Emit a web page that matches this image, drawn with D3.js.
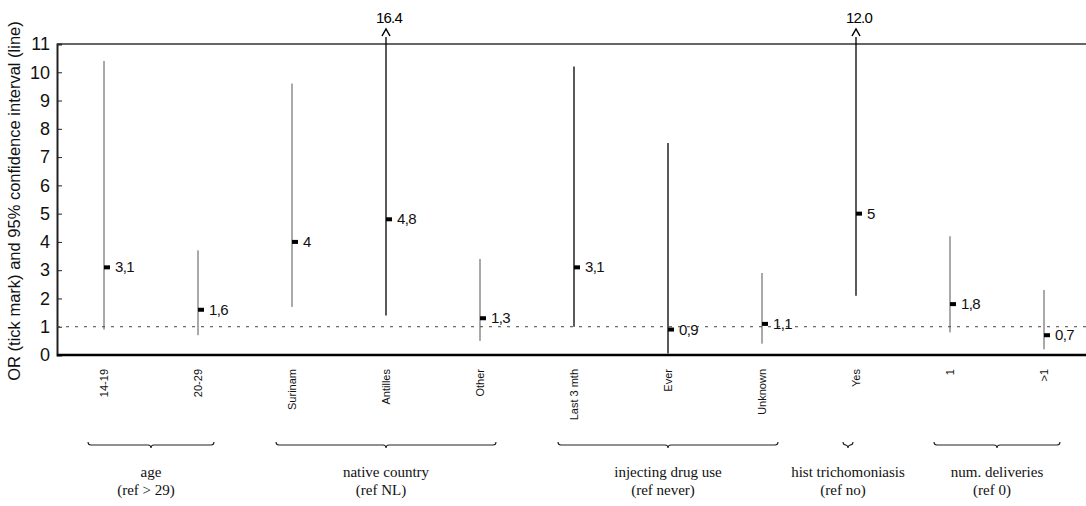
<!DOCTYPE html>
<html>
<head>
<meta charset="utf-8">
<script src="https://cdn.jsdelivr.net/npm/d3@7"></script>
<style>
  body { margin: 0; background: #fff; }
  svg { display: block; }
</style>
</head>
<body>
<div id="chart"></div>
<script>
// categories along the x axis
const categories = ["14-19", "20-29", "Surinam", "Antilles", "Other", "Last 3 mth", "Ever", "Unknown", "Yes", "1", ">1"];
// odds ratio (tick mark) and 95% CI (line)
const oddsRatio = [3.1, 1.6, 4, 4.8, 1.3, 3.1, 0.9, 1.1, 5, 1.8, 0.7];
const ciLow = [0.9, 0.7, 1.7, 1.4, 0.5, 1.0, 0.05, 0.4, 2.1, 0.8, 0.2];
const ciHigh = [10.4, 3.7, 9.6, 16.4, 3.4, 10.2, 7.5, 2.9, 12.0, 4.2, 2.3];
const yTicks = [0, 1, 2, 3, 4, 5, 6, 7, 8, 9, 10, 11];
// variable groups under the axis
const groupNames = ["age", "native country", "injecting drug use", "hist trichomoniasis", "num. deliveries"];
const groupRefs = ["(ref > 29)", "(ref NL)", "(ref never)", "(ref no)", "(ref 0)"];
const groupFirst = ["14-19", "Surinam", "Last 3 mth", "Yes", "1"];
const groupLast = ["20-29", "Other", "Unknown", "Yes", ">1"];

const data = categories.map((c, i) => ({ cat: c, or: oddsRatio[i], lo: ciLow[i], hi: ciHigh[i] }));
const darkLines = ["Antilles", "Last 3 mth", "Ever", "Yes"];

var W = 1086, H = 506;
var margin = { top: 44, left: 57 },
  width = W - margin.left,
  height = 311;

var svg = d3.select("#chart").append("svg").attr("width", W).attr("height", H);
var g = svg.append("g").attr("transform", "translate(" + margin.left + "," + margin.top + ")");

var x = d3.scaleBand().domain(categories).range([0, 1034]);
var cx = c => x(c) + x.bandwidth() / 2;
var y = d3.scaleLinear().domain([0, 11]).range([height, 0]);

// y axis
var yAxis = g.append("g").call(d3.axisLeft(y).tickValues(yTicks).tickSize(-5).tickPadding(7));
yAxis.select(".domain").attr("stroke", "#222").attr("stroke-width", 2);
yAxis.selectAll(".tick line").attr("stroke", "#222");
yAxis.selectAll(".tick text")
  .attr("font-family", "Liberation Sans, Arial, sans-serif")
  .attr("font-size", 18)
  .attr("fill", "#111");

// top border and baseline
g.append("line").attr("x1", 0).attr("x2", width).attr("y1", y(11)).attr("y2", y(11))
  .attr("stroke", "#333").attr("stroke-width", 1.6);
g.append("line").attr("x1", 0).attr("x2", width).attr("y1", y(0)).attr("y2", y(0))
  .attr("stroke", "#000").attr("stroke-width", 2.5);

// reference line at OR = 1
g.append("line").attr("x1", 0).attr("x2", width).attr("y1", y(1)).attr("y2", y(1))
  .attr("stroke", "#444").attr("stroke-width", 1).attr("stroke-dasharray", "3,6");

// y axis title
svg.append("text")
  .attr("transform", "translate(16," + (margin.top + 157) + ") rotate(-90)")
  .attr("text-anchor", "middle")
  .attr("dominant-baseline", "middle")
  .attr("font-family", "Liberation Sans, Arial, sans-serif")
  .attr("font-size", 16.5)
  .attr("fill", "#111")
  .text("OR (tick mark) and 95% confidence interval (line)");

// CI lines
var rows = g.selectAll("g.row").data(data).enter().append("g").attr("class", "row");
rows.append("line")
  .attr("x1", d => cx(d.cat)).attr("x2", d => cx(d.cat))
  .attr("y1", d => y(d.lo))
  .attr("y2", d => d.hi > 11 ? y(11) - 7 : y(d.hi))
  .attr("stroke", d => darkLines.includes(d.cat) ? "#000" : "#555")
  .attr("stroke-width", d => darkLines.includes(d.cat) ? 1.3 : 1);

// arrows for truncated intervals
var over = rows.filter(d => d.hi > 11);
over.append("path")
  .attr("d", d => "M" + (cx(d.cat) - 4) + "," + (y(11) - 8) + "L" + cx(d.cat) + "," + (y(11) - 15) + "L" + (cx(d.cat) + 4) + "," + (y(11) - 8))
  .attr("fill", "none").attr("stroke", "#000").attr("stroke-width", 1.5);
over.append("text")
  .attr("x", d => cx(d.cat) + 3).attr("y", y(11) - 21)
  .attr("text-anchor", "middle")
  .attr("font-family", "Liberation Sans, Arial, sans-serif")
  .attr("font-size", 15)
  .attr("letter-spacing", -0.8)
  .text(d => d3.format(".1f")(d.hi));

// OR tick marks and labels
rows.append("rect")
  .attr("x", d => cx(d.cat)).attr("y", d => y(d.or) - 2)
  .attr("width", 6).attr("height", 4).attr("fill", "#000");
rows.append("text")
  .attr("x", d => cx(d.cat) + 11).attr("y", d => y(d.or) + 1)
  .attr("dominant-baseline", "middle")
  .attr("font-family", "Liberation Sans, Arial, sans-serif")
  .attr("font-size", 15)
  .attr("letter-spacing", -0.6)
  .attr("fill", "#111")
  .text(d => String(d.or).replace(".", ","));

// category labels, rotated
g.selectAll("text.cat").data(categories).enter().append("text")
  .attr("class", "cat")
  .attr("transform", c => "translate(" + (cx(c) + 1) + "," + (height + 14) + ") rotate(-90)")
  .attr("text-anchor", "end")
  .attr("dominant-baseline", "middle")
  .attr("font-family", "Liberation Sans, Arial, sans-serif")
  .attr("font-size", 11)
  .attr("fill", "#111")
  .text(c => c);

// group braces and labels
var pad = 16;
var groups = groupNames.map((n, i) => {
  var a = cx(groupFirst[i]), b = cx(groupLast[i]);
  if (a === b) { a -= 13; b -= 3; } else { a -= pad; b += pad; }
  return { name: n, ref: groupRefs[i], a: a, b: b };
});
var by = height + 90;
var gg = g.selectAll("g.grp").data(groups).enter().append("g").attr("class", "grp");
gg.append("path")
  .attr("d", d => {
    var m = (d.a + d.b) / 2;
    return "M" + d.a + "," + (by - 3) + "Q" + d.a + "," + by + " " + (d.a + 3) + "," + by +
      "L" + (m - 3) + "," + by + "Q" + m + "," + by + " " + m + "," + (by + 3) +
      "Q" + m + "," + by + " " + (m + 3) + "," + by +
      "L" + (d.b - 3) + "," + by + "Q" + d.b + "," + by + " " + d.b + "," + (by - 3);
  })
  .attr("fill", "none").attr("stroke", "#222").attr("stroke-width", 1.1);
gg.append("text")
  .attr("x", d => (d.a + d.b) / 2).attr("y", by + 32)
  .attr("text-anchor", "middle")
  .attr("font-family", "Liberation Serif, Times New Roman, serif")
  .attr("font-size", 15)
  .attr("fill", "#111")
  .text(d => d.name);
gg.append("text")
  .attr("x", d => (d.a + d.b) / 2 - 5).attr("y", by + 50)
  .attr("text-anchor", "middle")
  .attr("font-family", "Liberation Serif, Times New Roman, serif")
  .attr("font-size", 15)
  .attr("fill", "#111")
  .text(d => d.ref);
</script>
</body>
</html>
